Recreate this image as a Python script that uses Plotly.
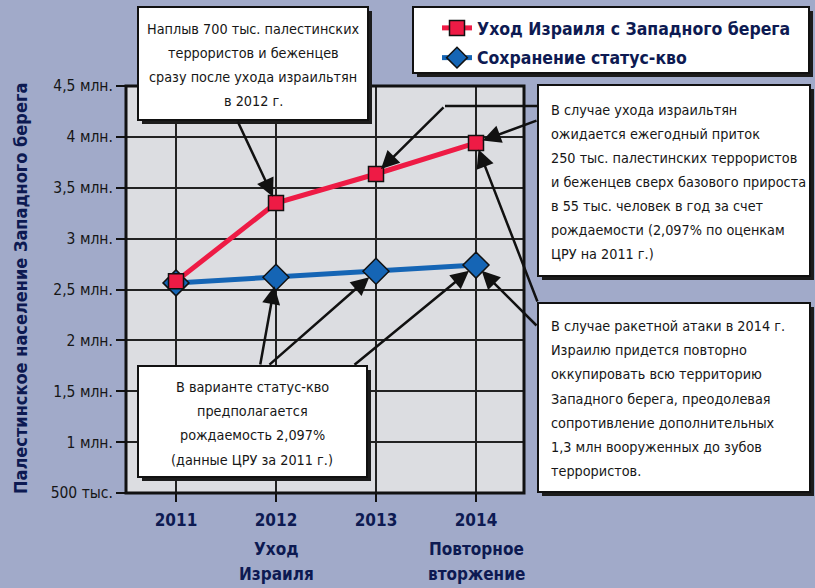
import plotly.graph_objects as go

# ---------------- data ----------------
years = [2011, 2012, 2013, 2014]
withdrawal = [2.58, 3.35, 3.635, 3.94]      # Уход Израиля с Западного берега (млн.)
status_quo = [2.565, 2.62, 2.68, 2.74]      # Сохранение статус-кво (млн.)
series_names = ["Уход Израиля с Западного берега", "Сохранение статус-кво"]
x_tick_labels = ["2011", "2012", "2013", "2014"]
x_captions = {2012: ["Уход", "Израиля"], 2014: ["Повторное", "вторжение"]}
y_tick_vals = [0.5, 1, 1.5, 2, 2.5, 3, 3.5, 4, 4.5]
y_tick_labels = ["500 тыс.", "1 млн.", "1,5 млн.", "2 млн.", "2,5 млн.", "3 млн.",
                 "3,5 млн.", "4 млн.", "4,5 млн."]
y_title = "Палестинское население Западного берега"

box_top_left = ["Наплыв 700 тыс. палестинских", "террористов и беженцев",
                "сразу после ухода израильтян", "в 2012 г."]
box_bottom_left = ["В варианте статус-кво", "предполагается",
                   "рождаемость 2,097%", "(данные ЦРУ за 2011 г.)"]
box_right_top = ["В случае ухода израильтян", "ожидается ежегодный приток",
                 "250 тыс. палестинских террористов", "и беженцев сверх базового прироста",
                 "в 55 тыс. человек в год за счет", "рождаемости (2,097% по оценкам",
                 "ЦРУ на 2011 г.)"]
box_right_bottom = ["В случае ракетной атаки в 2014 г.", "Израилю придется повторно",
                    "оккупировать всю территорию", "Западного берега, преодолевая",
                    "сопротивление дополнительных", "1,3 млн вооруженных до зубов",
                    "террористов."]

# ---------------- style ----------------
BG = "rgb(161,170,201)"
PLOT_BG = "rgb(220,221,225)"
NAVY = "#0d1a52"
INK = "#161616"
RED = "#ee1b45"
BLUE = "#1565b5"
FONT = "DejaVu Sans Condensed, Liberation Sans Narrow, sans-serif"
BOX_FS = 14.3

W, H = 815, 588
L, R, T, B = 126, 524, 86, 493


def px(x):
    return (x - L) / (R - L)


def py(y):
    return (B - y) / (B - T)


fig = go.Figure()
fig.add_trace(go.Scatter(
    x=years, y=status_quo, name=series_names[1], mode="lines+markers",
    legendrank=2, legendgroup="b",
    line=dict(color=BLUE, width=5),
    marker=dict(symbol="diamond", size=20, color=BLUE, line=dict(color="#111", width=1.5)),
    cliponaxis=False))
fig.add_trace(go.Scatter(
    x=years, y=withdrawal, name=series_names[0], mode="lines+markers",
    legendrank=1, legendgroup="a",
    line=dict(color=RED, width=5),
    marker=dict(symbol="square", size=15, color=RED, line=dict(color="#111", width=1.5)),
    cliponaxis=False))

shapes = []


def box(x0, y0, x1, y1, sh=4):
    shapes.append(dict(type="rect", xref="paper", yref="paper",
                       x0=px(x0 + sh), x1=px(x1 + sh), y0=py(y1 + sh), y1=py(y0 + sh),
                       fillcolor="#1c1c1c", line=dict(width=0), layer="above"))
    shapes.append(dict(type="rect", xref="paper", yref="paper",
                       x0=px(x0), x1=px(x1), y0=py(y1), y1=py(y0),
                       fillcolor="white", line=dict(color="#111", width=2), layer="above"))


# plot frame
shapes.append(dict(type="rect", xref="paper", yref="paper", x0=0, x1=1, y0=0, y1=1,
                   line=dict(color="#111", width=3), layer="above"))
# boxes
box(413, 7, 809, 73)
box(138, 7, 368, 120)
box(538, 85, 810, 276)
box(538, 303, 810, 492)
box(138, 366, 367, 477)
# elbow segment of the arrow from the upper-right box
shapes.append(dict(type="line", xref="paper", yref="paper",
                   x0=px(538), x1=px(445), y0=py(106), y1=py(106),
                   line=dict(color="#111", width=2.5), layer="above"))

annotations = []


def text_lines(lines, x, y0, step, align):
    for i, t in enumerate(lines):
        annotations.append(dict(
            text=t, xref="paper", yref="paper", x=px(x), y=py(y0 + i * step),
            xanchor="center" if align == "center" else "left", yanchor="middle",
            showarrow=False, font=dict(family=FONT, size=BOX_FS, color=INK)))


text_lines(box_top_left, 253, 29, 24, "center")
text_lines(box_bottom_left, 252, 387, 24.2, "center")
text_lines(box_right_top, 549, 110, 24, "left")
text_lines(box_right_bottom, 549, 326, 24.2, "left")


def arrow(tx, ty, ax_px, ay_px, standoff):
    annotations.append(dict(
        text="", x=tx, y=ty, xref="x", yref="y",
        ax=2011 + (ax_px - 176) / 100.0, ay=0.5 + (B - ay_px) / ((B - T) / 4.0),
        axref="x", ayref="y", showarrow=True, arrowhead=2, arrowsize=1.45,
        arrowwidth=2.5, arrowcolor="#111", standoff=standoff))


arrow(years[1], withdrawal[1], 237, 120, 7)
arrow(years[2], withdrawal[2], 445, 106, 7)
arrow(years[3], withdrawal[3], 538, 120, 7)
arrow(years[3], withdrawal[3], 538, 303, 7)
arrow(years[3], status_quo[3], 538, 327, 8)
arrow(years[1], status_quo[1], 260, 366, 9)
arrow(years[2], status_quo[2], 268, 366, 9)
arrow(years[3], status_quo[3], 353, 366, 9)

# captions under some x tick labels
for yr, lines in x_captions.items():
    for i, t in enumerate(lines):
        annotations.append(dict(
            text=t, xref="x", yref="paper", x=yr, y=py(549 + 25 * i),
            xanchor="center", yanchor="middle", showarrow=False,
            font=dict(family=FONT, size=17, color=NAVY, weight="bold")))

# y axis title
annotations.append(dict(
    text=y_title, xref="paper", yref="paper", x=px(20), y=py(289),
    xanchor="center", yanchor="middle", textangle=-90, showarrow=False,
    font=dict(family=FONT, size=18, color=NAVY, weight="bold")))

fig.update_layout(
    width=W, height=H,
    margin=dict(l=L, r=W - R, t=T, b=H - B, pad=0, autoexpand=False),
    paper_bgcolor=BG, plot_bgcolor=PLOT_BG,
    shapes=shapes, annotations=annotations,
    showlegend=True,
    legend=dict(x=px(437), y=py(10), xanchor="left", yanchor="top",
                bgcolor="rgba(0,0,0,0)", borderwidth=0,
                traceorder="grouped", tracegroupgap=4,
                font=dict(family=FONT, size=17.5, color=NAVY, weight="bold"),
                itemsizing="trace"),
    xaxis=dict(range=[2010.5, 2014.48], tickvals=years, ticktext=x_tick_labels,
               showgrid=True, gridcolor="#222", gridwidth=1.5, zeroline=False,
               showline=False, ticks="outside", ticklen=8, tickwidth=1.5, tickcolor="#111",
               ticklabelstandoff=4,
               tickfont=dict(family=FONT, size=17, color=NAVY, weight="bold"),
               fixedrange=True),
    yaxis=dict(range=[0.5, 4.5], tickvals=y_tick_vals, ticktext=y_tick_labels,
               showgrid=True, gridcolor="#222", gridwidth=1.5, zeroline=False,
               showline=False, ticks="outside", ticklen=9, tickwidth=1.5, tickcolor="#111",
               tickfont=dict(family=FONT, size=15.5, color=INK),
               fixedrange=True),
)

fig.write_html("out.html")
